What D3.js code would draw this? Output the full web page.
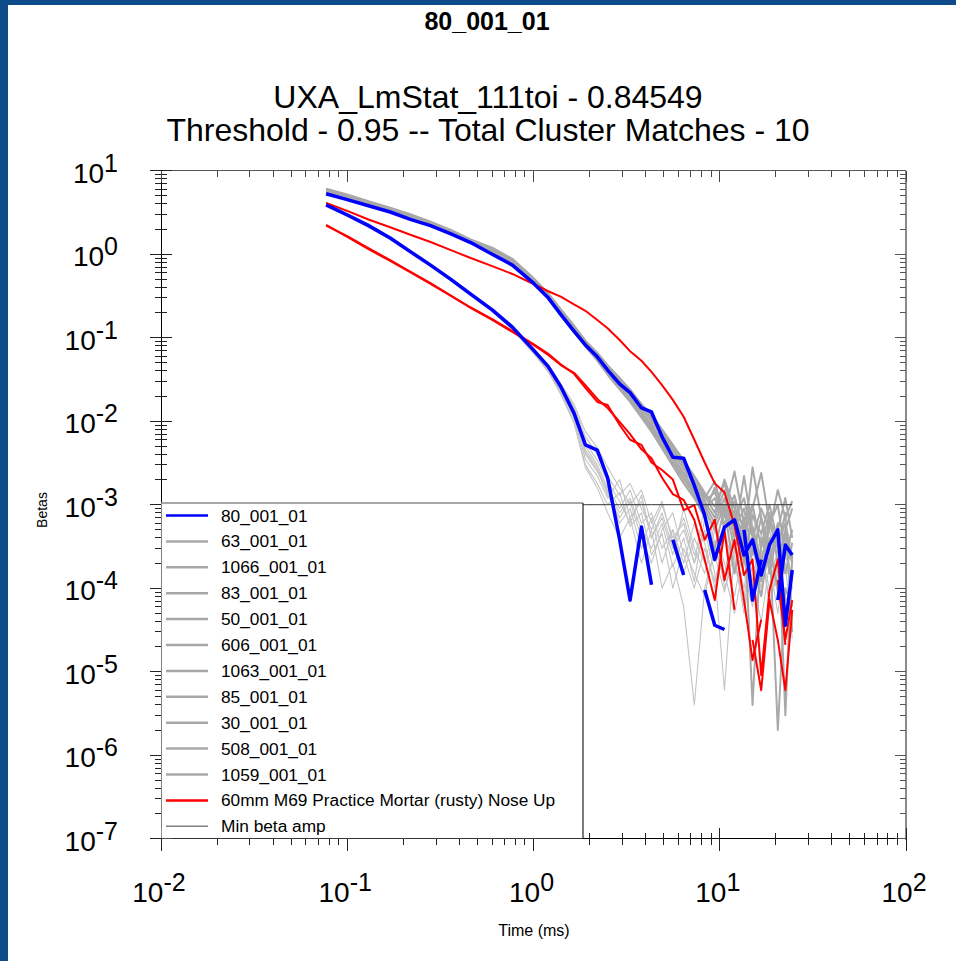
<!DOCTYPE html>
<html>
<head>
<meta charset="utf-8">
<script src="https://cdn.jsdelivr.net/npm/d3@7"></script>
<style>
  body { margin: 0; background: #fff; }
  text { font-family: Arial, "Liberation Sans", sans-serif; fill: #000; }
</style>
</head>
<body>
<div id="chart"></div>
<script>
// time gates (ms)
var timeGates = [0.077, 0.1, 0.13, 0.17, 0.22, 0.28, 0.36, 0.46, 0.6, 0.77, 1.0, 1.2, 1.4, 1.65, 1.9, 2.2, 2.5, 2.9,
  3.3, 3.8, 4.3, 4.9, 5.6, 6.4, 7.3, 8.3, 9.4, 10.6, 12, 13.5, 15, 16.7, 18.5, 20.5, 22.5, 24.5];

// 80_001_01 (blue)
var beta80_1 = [5.3, 4.5, 3.8, 3.2, 2.6, 2.2, 1.75, 1.38, 1.0, 0.74, 0.45, 0.30, 0.19, 0.12, 0.082, 0.059, 0.041, 0.028,
  0.022, 0.0144, 0.0129, 0.0065, 0.0037, 0.0036, 0.0017, 7.5e-4, 2.2e-4, 5.4e-4, 6.6e-4, 2.5e-4, 3.8e-4, 1.44e-4, 3.3e-4, 5.0e-4, 3.6e-5, 1.65e-4];
var beta80_2 = [3.9, 2.95, 2.2, 1.56, 1.06, 0.74, 0.50, 0.333, 0.215, 0.134, 0.071, 0.045, 0.026, 0.0125, 0.0052, 0.0045, 0.0021, 3.8e-4,
  7.2e-5, 5.4e-4, 1.1e-4, null, 3.8e-4, 1.44e-4, null, 9.5e-5, 3.6e-5, 3.2e-5, null, 5.0e-4, 7.2e-5, 2.2e-4, null, 7.2e-5, 3.3e-4, 2.5e-4];

// 60mm M69 Practice Mortar (rusty) Nose Up (red)
var mortar_1 = [4.1, 3.3, 2.6, 2.1, 1.7, 1.4, 1.12, 0.90, 0.72, 0.58, 0.44, 0.36, 0.31, 0.25, 0.21, 0.163, 0.13, 0.094,
  0.069, 0.053, 0.039, 0.027, 0.018, 0.0113, 0.006, 0.0032, 0.0018, 0.0014, 5.7e-4, 1.44e-4, 2.2e-4, 9.1e-6, 9.5e-5, 2.2e-4, 2.1e-5, null];
var mortar_2 = [2.24, 1.61, 1.15, 0.83, 0.60, 0.44, 0.316, 0.227, 0.163, 0.117, 0.082, 0.062, 0.047, 0.038, 0.027, 0.0185, 0.0144, 0.0098,
  0.0070, 0.0046, 0.0036, 0.0021, 0.00134, 0.00114, 6.6e-4, 2.2e-4, 7.2e-5, 5.0e-4, 5.5e-5, null, 2.4e-5, 6.0e-6, 7.2e-5, 2.4e-5, 6.0e-6, 5.5e-5];
var mortar_3 = [2.2, 1.65, 1.18, 0.85, 0.61, 0.45, 0.32, 0.23, 0.167, 0.12, 0.084, 0.064, 0.048, 0.037, 0.025, 0.017, 0.0156, 0.0090,
  0.0060, 0.0052, 0.0032, 0.0026, 0.0020, 8.6e-4, 9.9e-4, 3.8e-4, 6.6e-4, 1.25e-4, 3.8e-4, 7.2e-5, 1.38e-5, 4.2e-5, null, 1.25e-4, 2.4e-5, 7.2e-5];

// library matches (gray), primary betas
var b63_1 = [5.9, 5.0, 4.2, 3.5, 2.9, 2.4, 1.9, 1.45, 1.15, 0.85, 0.50, 0.33, 0.21, 0.13, 0.088, 0.062, 0.044, 0.030,
  0.022, 0.015, 0.011, 0.0072, 0.0045, 0.0030, 0.0016, 9.0e-4, 1.2e-3, 6.0e-4, 8.5e-4, 3.0e-4, 5.5e-4, 2.0e-4, 6.5e-4, 4.0e-4, 1.5e-4, 3.5e-4];
var b1066_1 = [5.6, 4.8, 4.0, 3.4, 2.8, 2.3, 1.85, 1.4, 1.1, 0.82, 0.48, 0.31, 0.20, 0.125, 0.085, 0.058, 0.040, 0.027,
  0.019, 0.013, 0.0088, 0.0060, 0.0038, 0.0024, 0.0019, 1.1e-3, 7.0e-4, 1.5e-3, 5.0e-4, 9.0e-4, 2.5e-4, 7.0e-4, 3.0e-4, 1.0e-4, 4.5e-4, 2.0e-4];
var b83_1 = [6.1, 5.2, 4.3, 3.6, 3.0, 2.45, 1.95, 1.5, 1.2, 0.88, 0.52, 0.34, 0.22, 0.14, 0.092, 0.066, 0.047, 0.033,
  0.024, 0.016, 0.012, 0.0080, 0.0052, 0.0034, 0.0022, 1.4e-3, 9.5e-4, 1.8e-3, 7.0e-4, 1.2e-3, 4.0e-4, 9.0e-4, 5.0e-4, 1.5e-3, 7.0e-4, 1.1e-3];
var b50_1 = [5.5, 4.7, 3.95, 3.3, 2.75, 2.25, 1.8, 1.38, 1.08, 0.80, 0.46, 0.30, 0.19, 0.118, 0.080, 0.055, 0.037, 0.025,
  0.018, 0.012, 0.0080, 0.0050, 0.0031, 0.0020, 1.3e-3, 8.0e-4, 1.6e-3, 5.0e-4, 1.1e-3, 2.0e-4, 7.5e-4, 4.5e-4, 1.0e-3, 3.5e-4, 6.0e-4, 2.0e-4];
var b606_1 = [5.8, 4.95, 4.15, 3.45, 2.85, 2.35, 1.88, 1.43, 1.13, 0.84, 0.49, 0.32, 0.205, 0.13, 0.087, 0.061, 0.043, 0.029,
  0.021, 0.014, 0.0100, 0.0066, 0.0042, 0.0027, 0.0017, 1.1e-3, 1.4e-3, 8.0e-4, 2.5e-3, 6.0e-4, 1.0e-3, 3.0e-4, 8.0e-4, 2.0e-4, 5.0e-4, 9.0e-4];
var b1063_1 = [5.7, 4.85, 4.05, 3.4, 2.8, 2.3, 1.83, 1.4, 1.1, 0.81, 0.47, 0.31, 0.195, 0.122, 0.083, 0.057, 0.039, 0.026,
  0.0195, 0.0125, 0.0092, 0.0058, 0.0036, 0.0024, 1.5e-3, 1.0e-3, 6.0e-4, 1.2e-3, 4.0e-4, 2.2e-3, 5.0e-4, 1.2e-4, 6.0e-4, 3.0e-4, 8.0e-4, 3.0e-5];
var b85_1 = [6.0, 5.1, 4.25, 3.55, 2.95, 2.4, 1.92, 1.47, 1.17, 0.86, 0.51, 0.335, 0.215, 0.135, 0.09, 0.064, 0.046, 0.032,
  0.023, 0.016, 0.0115, 0.0077, 0.0050, 0.0032, 0.0021, 1.3e-3, 8.0e-4, 2.0e-3, 9.0e-4, 3.5e-4, 2.8e-3, 7.0e-4, 1.5e-4, 5.0e-4, 1.2e-3, 4.0e-4];
var b30_1 = [5.4, 4.6, 3.9, 3.25, 2.7, 2.2, 1.77, 1.35, 1.06, 0.78, 0.45, 0.295, 0.185, 0.115, 0.078, 0.053, 0.036, 0.024,
  0.017, 0.011, 0.0075, 0.0047, 0.0029, 0.0018, 1.2e-3, 7.0e-4, 3.0e-4, 9.0e-4, 1.5e-4, 6.0e-4, 2.0e-4, 8.0e-5, 4.0e-4, 2.0e-6, 1.0e-4, 6.0e-5];
var b508_1 = [5.85, 5.0, 4.2, 3.5, 2.9, 2.38, 1.9, 1.45, 1.15, 0.85, 0.5, 0.325, 0.21, 0.13, 0.088, 0.063, 0.045, 0.031,
  0.023, 0.015, 0.0108, 0.0070, 0.0046, 0.0030, 0.0019, 1.2e-3, 1.9e-3, 7.0e-4, 1.3e-3, 4.5e-4, 9.0e-4, 2.4e-3, 6.0e-4, 1.0e-3, 2.5e-4, 5.0e-4];
var b1059_1 = [5.65, 4.8, 4.05, 3.38, 2.78, 2.28, 1.82, 1.39, 1.09, 0.80, 0.465, 0.305, 0.193, 0.12, 0.081, 0.056, 0.038, 0.0255,
  0.0185, 0.012, 0.0085, 0.0054, 0.0033, 0.0022, 1.4e-3, 9.0e-4, 5.0e-4, 1.0e-3, 3.0e-4, 7.0e-4, 4.0e-6, 4.0e-4, 2.0e-4, 6.0e-4, 3.0e-6, 2.5e-4];

// library matches (gray), secondary betas
var b63_2 = [4.2, 3.1, 2.3, 1.6, 1.1, 0.76, 0.51, 0.34, 0.22, 0.135, 0.072, 0.044, 0.025, 0.013, 0.005, 0.0030, 0.0016, 9.0e-4,
  1.5e-3, 6.0e-4, 8.0e-4, 3.0e-4, 5.0e-4, 2.0e-4, 6.0e-4, 3.5e-4, 1.0e-4, 4.0e-4, 2.0e-4, 6.0e-5, 3.0e-4, 1.5e-4, 4.0e-4, 8.0e-5, 2.0e-4, 1.0e-4];
var b1066_2 = [4.0, 3.0, 2.25, 1.58, 1.08, 0.75, 0.505, 0.335, 0.215, 0.13, 0.068, 0.041, 0.023, 0.011, 0.0035, 0.0022, 1.2e-3, 2.0e-3,
  7.0e-4, 1.1e-3, 4.0e-4, 7.0e-4, 2.5e-4, 9.0e-4, 3.0e-4, 1.5e-4, 5.0e-4, 2.0e-4, 8.0e-5, 3.5e-4, 1.2e-4, 4.5e-4, 2.0e-4, 5.0e-5, 2.5e-4, 1.5e-4];
var b83_2 = [3.8, 2.9, 2.15, 1.52, 1.04, 0.72, 0.49, 0.325, 0.21, 0.128, 0.067, 0.042, 0.024, 0.012, 0.0045, 0.0028, 1.4e-3, 8.0e-4,
  1.2e-3, 5.0e-4, 3.0e-4, 6.0e-4, 1.8e-4, 4.0e-4, 1.2e-4, 7.0e-4, 2.5e-4, 9.0e-5, 3.0e-4, 1.5e-4, 6.0e-5, 2.5e-4, 1.0e-4, 3.0e-4, 4.0e-5, 2.0e-4];
var b50_2 = [4.1, 3.05, 2.28, 1.6, 1.09, 0.76, 0.51, 0.34, 0.22, 0.138, 0.074, 0.046, 0.027, 0.015, 0.0065, 0.0040, 0.0022, 1.3e-3,
  1.8e-3, 9.0e-4, 5.0e-4, 1.0e-3, 4.0e-4, 6.0e-4, 2.0e-4, 4.5e-4, 3.0e-4, 1.2e-4, 5.0e-4, 2.5e-4, 1.0e-4, 3.0e-4, 6.0e-5, 2.0e-4, 3.5e-4, 1.2e-4];
var b606_2 = [3.95, 2.95, 2.2, 1.55, 1.06, 0.73, 0.495, 0.33, 0.212, 0.13, 0.069, 0.043, 0.024, 0.012, 0.0040, 0.0025, 1.5e-3, 6.0e-4,
  9.0e-4, 3.0e-4, 7.0e-4, 2.0e-4, 5.0e-4, 1.5e-4, 4.0e-4, 2.0e-4, 6.0e-4, 1.0e-4, 2.5e-4, 5.0e-5, 2.0e-4, 1.0e-4, 3.0e-4, 1.5e-4, 7.0e-5, 1.0e-4];
var b1063_2 = [3.85, 2.92, 2.18, 1.54, 1.05, 0.73, 0.49, 0.328, 0.21, 0.128, 0.066, 0.04, 0.022, 0.010, 0.0030, 0.0018, 1.0e-3, 1.4e-3,
  5.5e-4, 8.0e-4, 2.5e-4, 4.5e-4, 1.0e-4, 3.0e-4, 1.5e-4, 8.0e-5, 3.0e-4, 1.5e-4, 6.0e-4, 2.0e-4, 1.2e-4, 4.0e-5, 2.0e-4, 9.0e-5, 3.0e-4, 6.0e-5];
var b85_2 = [4.05, 3.02, 2.26, 1.58, 1.08, 0.75, 0.50, 0.336, 0.216, 0.133, 0.071, 0.044, 0.026, 0.014, 0.0055, 0.0034, 0.0019, 1.1e-3,
  6.0e-4, 1.3e-3, 4.0e-4, 8.0e-4, 3.0e-4, 5.0e-4, 2.0e-4, 1.0e-3, 3.5e-4, 5.0e-4, 1.5e-4, 4.0e-4, 8.0e-4, 2.0e-4, 5.0e-4, 2.5e-4, 6.0e-4, 3.0e-4];
var b30_2 = [3.75, 2.85, 2.12, 1.5, 1.02, 0.71, 0.48, 0.32, 0.205, 0.125, 0.065, 0.039, 0.021, 0.0095, 0.0028, 0.0016, 8.0e-4, 4.0e-4,
  7.0e-4, 2.0e-4, 5.0e-4, 1.0e-4, 2.0e-4, 6.0e-5, 4.0e-6, 1.0e-4, 3.0e-4, 1.5e-4, 5.0e-5, 2.0e-4, 1.0e-4, 3.0e-4, 7.0e-5, 1.5e-4, 4.0e-4, 1.0e-4];
var b508_2 = [4.15, 3.08, 2.3, 1.61, 1.1, 0.77, 0.515, 0.345, 0.222, 0.14, 0.076, 0.048, 0.028, 0.016, 0.0075, 0.0048, 0.0028, 1.6e-3,
  1.0e-3, 1.5e-3, 6.0e-4, 1.1e-3, 3.5e-4, 7.0e-4, 2.5e-4, 5.0e-4, 1.5e-4, 6.0e-6, 3.0e-4, 1.0e-4, 4.0e-4, 2.0e-4, 5.0e-4, 1.0e-4, 2.0e-4, 2.5e-5];
var b1059_2 = [3.9, 2.93, 2.19, 1.55, 1.05, 0.73, 0.495, 0.33, 0.212, 0.13, 0.068, 0.042, 0.024, 0.012, 0.0042, 0.0026, 1.3e-3, 7.0e-4,
  1.1e-3, 4.0e-4, 2.0e-4, 5.0e-4, 8.0e-4, 2.5e-4, 1.0e-4, 3.0e-4, 1.2e-4, 4.0e-4, 2.0e-4, 8.0e-5, 3.0e-4, 1.0e-4, 2.5e-4, 1.2e-4, 4.0e-5, 1.5e-4];

var minBetaAmp = 0.001;

var legendNames = ["80_001_01", "63_001_01", "1066_001_01", "83_001_01", "50_001_01", "606_001_01", "1063_001_01",
  "85_001_01", "30_001_01", "508_001_01", "1059_001_01", "60mm M69 Practice Mortar (rusty) Nose Up", "Min beta amp"];
var legendColors = ["#0000ff", "#a8a8a8", "#a8a8a8", "#a8a8a8", "#a8a8a8", "#a8a8a8", "#a8a8a8",
  "#a8a8a8", "#a8a8a8", "#a8a8a8", "#a8a8a8", "#ff0000", "#808080"];

var chartTitle = "80_001_01";
var subTitle1 = "UXA_LmStat_111toi - 0.84549";
var subTitle2 = "Threshold - 0.95 -- Total Cluster Matches - 10";

// SVG area
var svgWidth = 956;
var svgHeight = 961;
var plot = { left: 161, right: 906, top: 170.7, bottom: 838.7 };

var svg = d3.select("#chart")
  .append("svg")
  .attr("width", svgWidth)
  .attr("height", svgHeight)
  .style("display", "block");

svg.append("rect").attr("width", svgWidth).attr("height", svgHeight).attr("fill", "#fff");
// slide frame
svg.append("rect").attr("x", 0).attr("y", 0).attr("width", svgWidth).attr("height", 5).attr("fill", "#0d4c89");
svg.append("rect").attr("x", 0).attr("y", 0).attr("width", 8).attr("height", svgHeight).attr("fill", "#0d4c89");

// scales
var x = d3.scaleLog().domain([1e-2, 1e2]).range([plot.left, plot.right]);
var y = d3.scaleLog().domain([1e-7, 1e1]).range([plot.bottom, plot.top]);

function isMajor(v) {
  var l = Math.log10(v);
  return Math.abs(l - Math.round(l)) < 1e-9;
}

// titles
svg.append("text").attr("x", 487).attr("y", 30).attr("text-anchor", "middle")
  .style("font-size", "25px").style("font-weight", "bold").text(chartTitle);
svg.append("text").attr("x", 488).attr("y", 108).attr("text-anchor", "middle")
  .style("font-size", "32px").text(subTitle1);
svg.append("text").attr("x", 488).attr("y", 141).attr("text-anchor", "middle")
  .style("font-size", "32px").text(subTitle2);

// data lines
var line = d3.line()
  .defined(d => d.v != null)
  .x(d => x(d.t))
  .y(d => y(d.v));

function points(vals) {
  return timeGates.map((t, i) => ({ t: t, v: vals[i] }));
}

var linesGroup = svg.append("g").attr("fill", "none").attr("stroke-linejoin", "round");

var graySecondary = [b63_2, b1066_2, b83_2, b50_2, b606_2, b1063_2, b85_2, b30_2, b508_2, b1059_2];
var grayPrimary = [b63_1, b1066_1, b83_1, b50_1, b606_1, b1063_1, b85_1, b30_1, b508_1, b1059_1];

graySecondary.forEach(function(vals) {
  linesGroup.append("path").attr("d", line(points(vals)))
    .attr("stroke", "#c4c4c4").attr("stroke-width", 1.1);
});
grayPrimary.forEach(function(vals) {
  linesGroup.append("path").attr("d", line(points(vals)))
    .attr("stroke", "#a9a9a9").attr("stroke-width", 2);
});
[mortar_3, mortar_2, mortar_1].forEach(function(vals) {
  linesGroup.append("path").attr("d", line(points(vals)))
    .attr("stroke", "#ff0000").attr("stroke-width", 2);
});

// min beta amplitude line
linesGroup.append("path")
  .attr("d", line(timeGates.map(t => ({ t: t, v: minBetaAmp }))))
  .attr("stroke", "#333").attr("stroke-width", 1);

[beta80_2, beta80_1].forEach(function(vals) {
  linesGroup.append("path").attr("d", line(points(vals)))
    .attr("stroke", "#0000ff").attr("stroke-width", 3.5);
});

// axes frame
var axisGroup = svg.append("g").attr("shape-rendering", "crispEdges");
axisGroup.append("line").attr("x1", plot.left).attr("x2", plot.right).attr("y1", plot.top).attr("y2", plot.top)
  .attr("stroke", "#555");
axisGroup.append("line").attr("x1", plot.right).attr("x2", plot.right).attr("y1", plot.top).attr("y2", plot.bottom + 1)
  .attr("stroke", "#8a8a8a").attr("stroke-width", 2);
axisGroup.append("line").attr("x1", plot.left).attr("x2", plot.left).attr("y1", plot.top).attr("y2", plot.bottom)
  .attr("stroke", "#000");
axisGroup.append("line").attr("x1", plot.left).attr("x2", plot.right).attr("y1", plot.bottom).attr("y2", plot.bottom)
  .attr("stroke", "#000");

var xTicks = x.ticks();
var yTicks = y.ticks();

// left + right ticks
yTicks.forEach(function(v) {
  var yy = y(v), big = isMajor(v);
  axisGroup.append("line").attr("x1", plot.left - (big ? 11 : 6)).attr("x2", plot.left + (big ? 11 : 6))
    .attr("y1", yy).attr("y2", yy).attr("stroke", "#222");
  axisGroup.append("line").attr("x1", plot.right - (big ? 11 : 6)).attr("x2", plot.right)
    .attr("y1", yy).attr("y2", yy).attr("stroke", "#555");
});
// top + bottom ticks
xTicks.forEach(function(v) {
  var xx = x(v), big = isMajor(v);
  axisGroup.append("line").attr("x1", xx).attr("x2", xx)
    .attr("y1", plot.top).attr("y2", plot.top + (big ? 11 : 6)).attr("stroke", "#444");
  axisGroup.append("line").attr("x1", xx).attr("x2", xx)
    .attr("y1", plot.bottom - (big ? 11 : 6)).attr("y2", plot.bottom + (big ? 12 : 6)).attr("stroke", "#222");
});

// tick labels
yTicks.filter(isMajor).forEach(function(v) {
  var t = svg.append("text").attr("x", 118).attr("y", y(v) + 12).attr("text-anchor", "end");
  t.append("tspan").style("font-size", "28px").text("10");
  t.append("tspan").attr("dy", -11).style("font-size", "25px").text(Math.round(Math.log10(v)));
});
xTicks.filter(isMajor).forEach(function(v) {
  var t = svg.append("text").attr("x", x(v) - 2).attr("y", 902).attr("text-anchor", "middle");
  t.append("tspan").style("font-size", "28px").text("10");
  t.append("tspan").attr("dy", -11).style("font-size", "25px").text(Math.round(Math.log10(v)));
});

// axis titles
svg.append("text").attr("x", 534).attr("y", 936).attr("text-anchor", "middle")
  .style("font-size", "16px").text("Time (ms)");
svg.append("text").attr("transform", "translate(47, 510) rotate(-90)").attr("text-anchor", "middle")
  .style("font-size", "14px").text("Betas");

// legend
var legend = { left: plot.left, right: 583, top: 503 };
var legendGroup = svg.append("g");
legendGroup.append("rect").attr("x", legend.left + 0.5).attr("y", legend.top)
  .attr("width", legend.right - legend.left - 0.5).attr("height", plot.bottom - legend.top - 0.5).attr("fill", "#fff");
legendGroup.append("line").attr("x1", legend.left).attr("x2", legend.right).attr("y1", legend.top).attr("y2", legend.top)
  .attr("stroke", "#888").attr("stroke-width", 1.5);
legendGroup.append("line").attr("x1", legend.right).attr("x2", legend.right).attr("y1", legend.top).attr("y2", plot.bottom)
  .attr("stroke", "#222").attr("stroke-width", 1.2);

legendNames.forEach(function(name, i) {
  var cy = 515.5 + i * 25.9;
  legendGroup.append("line").attr("x1", 166).attr("x2", 208).attr("y1", cy).attr("y2", cy)
    .attr("stroke", legendColors[i]).attr("stroke-width", i === legendNames.length - 1 ? 1.5 : 2.5);
  legendGroup.append("text").attr("x", 221).attr("y", cy + 6).style("font-size", "17.3px").text(name);
});
</script>
</body>
</html>
